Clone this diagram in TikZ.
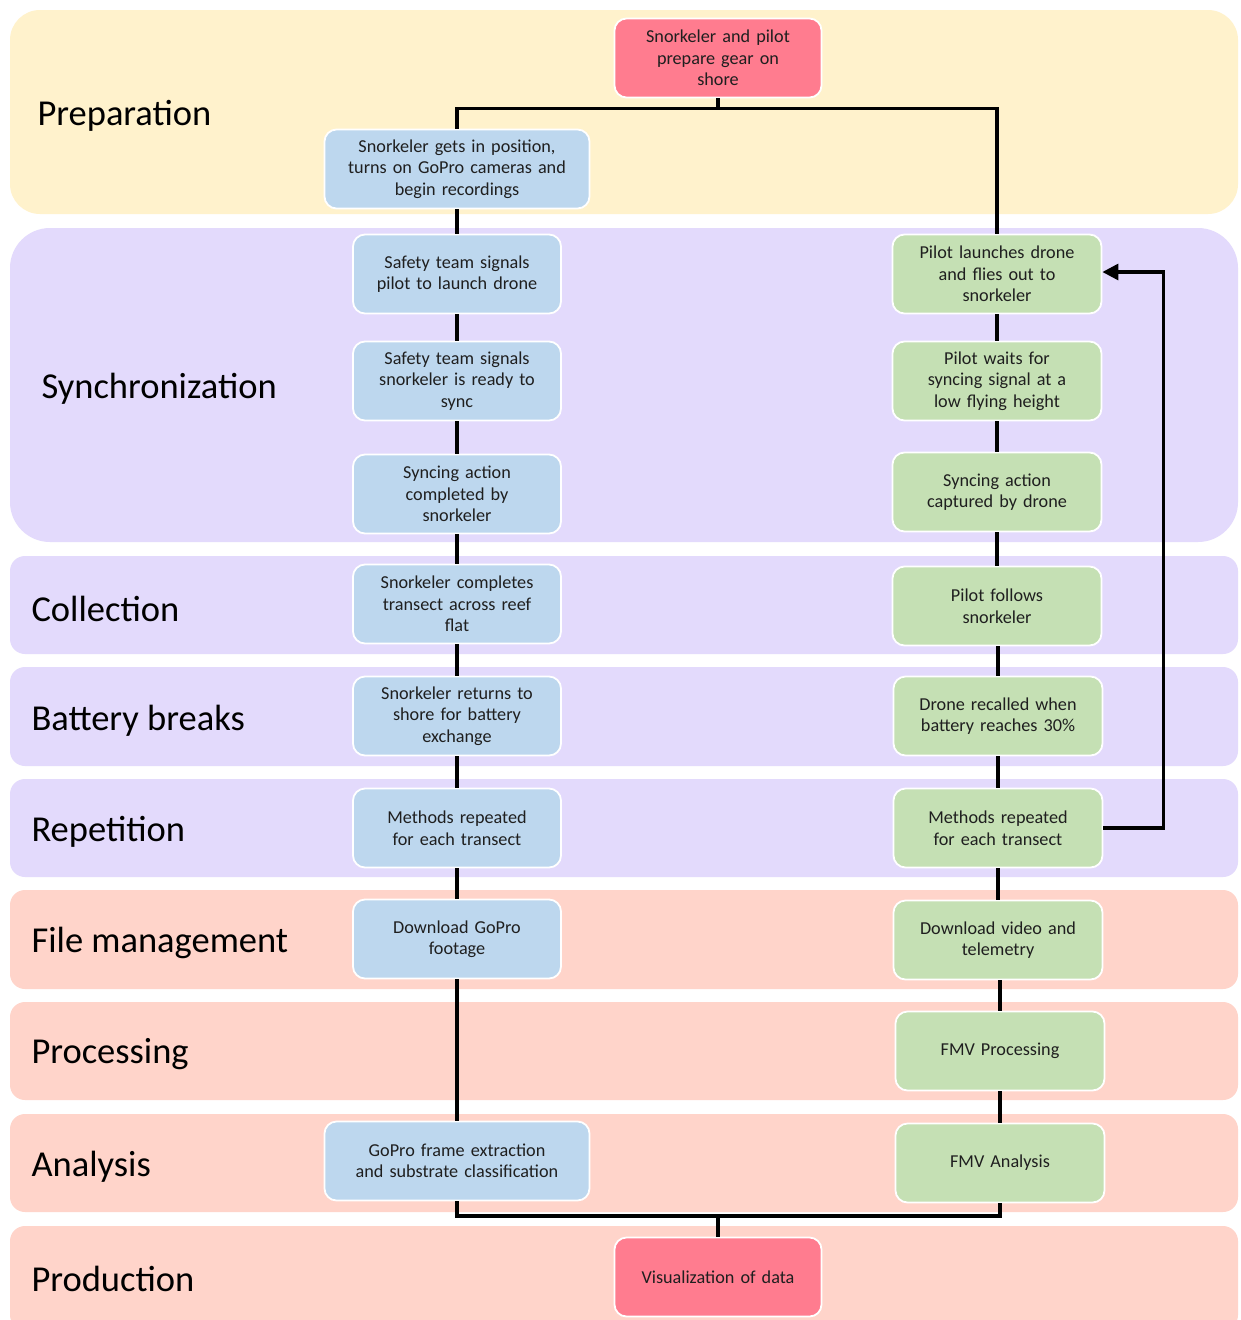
\documentclass[tikz,border=0pt]{standalone}
\usepackage{fontspec}
\setmainfont{Carlito}
\usepackage{xcolor}
\usetikzlibrary{arrows.meta, positioning}

\definecolor{prepbg}{HTML}{FFF2CC}
\definecolor{syncbg}{HTML}{E3DAFC}
\definecolor{filebg}{HTML}{FFD4CA}
\definecolor{snorkblue}{HTML}{BDD7EE}
\definecolor{dronegreen}{HTML}{C5E0B4}
\definecolor{keypink}{HTML}{FF7C8F}
\definecolor{inktext}{HTML}{1F1F1F}

\begin{document}
\begin{tikzpicture}[x=1pt, y=-1pt,
    box/.style={draw=white, line width=1.8pt, rounded corners=12pt, align=center,
        minimum height=79pt, inner sep=3pt, text=inktext,
        font=\fontsize{18.2}{21.5}\selectfont},
    sbox/.style={box, fill=snorkblue, text width=202pt},
    sboxwide/.style={box, fill=snorkblue, text width=259pt},
    dbox/.style={box, fill=dronegreen, text width=203pt},
    kbox/.style={box, fill=keypink, text width=201pt},
    phase/.style={anchor=west, text=black, font=\fontsize{36.5}{40}\selectfont},
    link/.style={line width=3.2pt, black}]
    \useasboundingbox (0,0) rectangle (1241,1320);
    \clip (0,0) rectangle (1241,1320);
    \fill[white] (0,0) rectangle (1241,1320);

    % Phase bands
    \fill[prepbg, rounded corners=30pt] (10,10) rectangle (1238,214);
    \fill[syncbg, rounded corners=40pt] (10,228) rectangle (1238,542);
    \foreach \ytop/\ybot in {556/654, 667/766, 779/877}
        \fill[syncbg, rounded corners=15pt] (10,\ytop) rectangle (1238,\ybot);
    \foreach \ytop/\ybot in {890/989, 1002/1100, 1114/1212, 1226/1330}
        \fill[filebg, rounded corners=15pt] (10,\ytop) rectangle (1238,\ybot);

    % Phase labels
    \node[phase] (lprep) at (34,116) {Preparation};
    \node[phase] (lsync) at (38,389) {Synchronization};
    \node[phase] (lcoll) at (28,609) {Collection};
    \node[phase] (lbatt) at (28,721) {Battery breaks};
    \node[phase] (lrept) at (28,832) {Repetition};
    \node[phase] (lfile) at (28,943) {File management};
    \node[phase] (lproc) at (28,1054) {Processing};
    \node[phase] (lanal) at (28,1167) {Analysis};
    \node[phase] (lprod) at (28,1279) {Production};

    % Shared steps
    \node[kbox] (gear) at (718,58) {Snorkeler and pilot\\prepare gear on\\shore};
    \node[kbox] (vis) at (718,1277) {Visualization of data};

    % Snorkeler column
    \node[sboxwide] (gopro) at (457,169) {Snorkeler gets in position,\\turns on GoPro cameras and\\begin recordings};
    \node[sbox] (sig1) at (457,274) {Safety team signals\\pilot to launch drone};
    \node[sbox] (sig2) at (457,381) {Safety team signals\\snorkeler is ready to\\sync};
    \node[sbox] (syncs) at (457,494) {Syncing action\\completed by\\snorkeler};
    \node[sbox] (trans) at (457,604) {Snorkeler completes\\transect across reef\\flat};
    \node[sbox] (ret) at (457,716) {Snorkeler returns to\\shore for battery\\exchange};
    \node[sbox] (reps) at (457,828) {Methods repeated\\for each transect};
    \node[sbox] (dlgp) at (457,939) {Download GoPro\\footage};
    \node[sboxwide] (frame) at (457,1161) {GoPro frame extraction\\and substrate classification};

    % Drone column
    \node[dbox] (launch) at (997,274) {Pilot launches drone\\and flies out to\\snorkeler};
    \node[dbox] (wait) at (997,381) {Pilot waits for\\syncing signal at a\\low flying height};
    \node[dbox] (syncd) at (997,492) {Syncing action\\captured by drone};
    \node[dbox] (follow) at (997,606) {Pilot follows\\snorkeler};
    \node[dbox] (recall) at (998,716) {Drone recalled when\\battery reaches 30\%};
    \node[dbox] (repd) at (998,828) {Methods repeated\\for each transect};
    \node[dbox] (dlvid) at (998,940) {Download video and\\telemetry};
    \node[dbox] (fmvp) at (1000,1051) {FMV Processing};
    \node[dbox] (fmva) at (1000,1163) {FMV Analysis};

    % Split and merge
    \coordinate (jtop) at ([yshift=-10pt]gear.south);
    \coordinate (jbot) at (vis.north |- 0,1216);
    \draw[link] (gear.south) -- (jtop);
    \draw[link] (gopro.north) |- (jtop) -| (launch.north);
    \draw[link] (frame.south) |- (jbot) -| (fmva.south);
    \draw[link] (jbot) -- (vis.north);

    % Snorkeler chain
    \foreach \a/\b in {gopro/sig1, sig1/sig2, sig2/syncs, syncs/trans, trans/ret, ret/reps, reps/dlgp, dlgp/frame}
        \draw[link] (\a.south) -- (\b.north);

    % Drone chain
    \foreach \a/\b in {launch/wait, wait/syncd, syncd/follow, follow/recall, recall/repd, repd/dlvid, dlvid/fmvp, fmvp/fmva}
        \draw[link] (\b.north |- \a.south) -- (\b.north);

    % Repeat loop
    \draw[link, -{Triangle[length=16pt, width=16pt]}] (repd.east) -- ++(60,0) |- ([yshift=2pt]launch.east);
\end{tikzpicture}
\end{document}
